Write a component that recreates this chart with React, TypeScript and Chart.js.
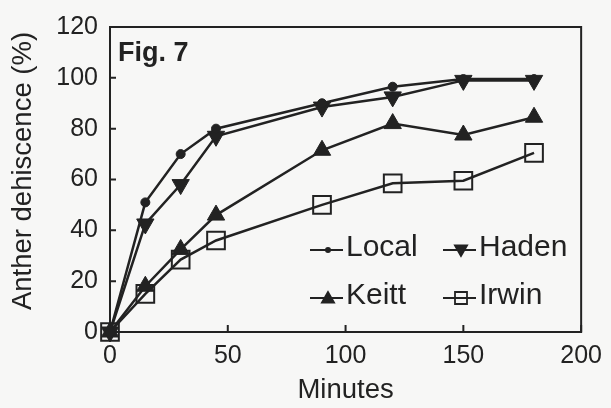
import React, { useEffect, useRef } from "react";
import { Chart, registerables } from "chart.js";

Chart.register(...registerables);

const minutes = [0, 15, 30, 45, 90, 120, 150, 180];
const localValues = [0, 51, 70, 80, 90, 96.5, 99.5, 99.5];
const hadenValues = [0, 42.5, 58, 77, 88.5, 92.5, 99, 99];
const keittValues = [0, 18, 32.5, 46, 71.5, 82, 77.5, 84.5];
const irwinValues = [0, 15, 28.5, 36, 50, 58.5, 59.5, 70.5];
const seriesNames = ["Local", "Haden", "Keitt", "Irwin"];
const xTicks = [0, 50, 100, 150, 200];
const yTicks = [0, 20, 40, 60, 80, 100, 120];
const xTitle = "Minutes";
const yTitle = "Anther dehiscence (%)";
const figLabel = "Fig. 7";

const INK = "#222222";
const BG = "#f7f7f6";
const FONT = "'Liberation Sans', Arial, Helvetica, sans-serif";

type Style = { pointStyle: string; radius: number; rotation: number; fill: string };
const styles: Style[] = [
  { pointStyle: "circle", radius: 4.5, rotation: 0, fill: INK },
  { pointStyle: "triangle", radius: 10, rotation: 180, fill: INK },
  { pointStyle: "triangle", radius: 10, rotation: 0, fill: INK },
  { pointStyle: "rect", radius: 12.5, rotation: 0, fill: "rgba(0,0,0,0)" },
];

function drawMarker(ctx: CanvasRenderingContext2D, kind: number, x: number, y: number, r: number) {
  ctx.save();
  ctx.strokeStyle = INK;
  ctx.fillStyle = INK;
  ctx.lineWidth = 1.8;
  ctx.beginPath();
  if (kind === 0) {
    ctx.arc(x, y, r, 0, Math.PI * 2);
    ctx.fill();
  } else if (kind === 1 || kind === 2) {
    const dir = kind === 1 ? 1 : -1;
    const h = r * 1.5;
    const w = r * Math.sqrt(3) / 2;
    ctx.moveTo(x, y + dir * r);
    ctx.lineTo(x - w, y - dir * (h - r));
    ctx.lineTo(x + w, y - dir * (h - r));
    ctx.closePath();
    ctx.fill();
    ctx.stroke();
  } else {
    ctx.rect(x - r, y - r, 2 * r, 2 * r);
    ctx.stroke();
  }
  ctx.restore();
}

const framePlugin = {
  id: "frame",
  beforeDraw(chart: any) {
    const { ctx, width, height } = chart;
    ctx.save();
    ctx.fillStyle = BG;
    ctx.fillRect(0, 0, width, height);
    ctx.restore();
  },
  beforeDatasetsDraw(chart: any) {
    const { ctx, chartArea: a, scales } = chart;
    ctx.save();
    ctx.strokeStyle = INK;
    ctx.lineWidth = 2;
    ctx.strokeRect(a.left, a.top, a.right - a.left, a.bottom - a.top);
    ctx.beginPath();
    for (const v of yTicks) {
      const y = scales.y.getPixelForValue(v);
      ctx.moveTo(a.left, y);
      ctx.lineTo(a.left + 6, y);
    }
    for (const v of xTicks) {
      const x = scales.x.getPixelForValue(v);
      ctx.moveTo(x, a.bottom);
      ctx.lineTo(x, a.bottom - 7);
    }
    ctx.stroke();
    ctx.fillStyle = INK;
    ctx.font = `bold 27px ${FONT}`;
    ctx.textBaseline = "alphabetic";
    ctx.textAlign = "left";
    ctx.fillText(figLabel, a.left + 8, a.top + 34);
    // y axis title
    ctx.font = `27.5px ${FONT}`;
    ctx.textBaseline = "middle";
    ctx.textAlign = "center";
    ctx.translate(23, 171);
    ctx.rotate(-Math.PI / 2);
    ctx.fillText(yTitle, 0, 0);
    ctx.restore();
  },
  afterDraw(chart: any) {
    const { ctx, chartArea: a } = chart;
    const rows = [a.bottom - 82, a.bottom - 34];
    const cols = [a.left + 200, a.left + 333];
    const legendR = [3, 7, 7, 6];
    ctx.save();
    ctx.font = `30px ${FONT}`;
    ctx.textBaseline = "middle";
    ctx.textAlign = "left";
    seriesNames.forEach((name, i) => {
      const x = cols[i % 2];
      const y = rows[Math.floor(i / 2)];
      ctx.strokeStyle = INK;
      ctx.lineWidth = 2.2;
      ctx.beginPath();
      ctx.moveTo(x, y);
      ctx.lineTo(x + 33, y);
      ctx.stroke();
      drawMarker(ctx, i, x + 18, y + (i === 1 ? -1 : i === 2 ? 1 : 0), legendR[i]);
      ctx.fillStyle = INK;
      ctx.fillText(name, x + 36, y - 2);
    });
    ctx.restore();
  },
};

export default function App() {
  const ref = useRef<HTMLCanvasElement | null>(null);
  useEffect(() => {
    document.body.style.margin = "0";
    const canvas = ref.current;
    if (!canvas) return;
    const values = [localValues, hadenValues, keittValues, irwinValues];
    const chart = new Chart(canvas, {
      type: "line",
      data: {
        datasets: seriesNames.map((name, i) => ({
          label: name,
          data: minutes.map((m, j) => ({ x: m, y: values[i][j] })),
          borderColor: INK,
          borderWidth: 2.5,
          backgroundColor: styles[i].fill,
          pointBackgroundColor: styles[i].fill,
          pointBorderColor: INK,
          pointBorderWidth: i === 3 ? 2 : 1,
          pointStyle: styles[i].pointStyle as any,
          pointRadius: styles[i].radius,
          pointRotation: styles[i].rotation,
          tension: 0,
          fill: false,
          clip: false as any,
        })),
      },
      options: {
        animation: false,
        responsive: false,
        events: [],
        layout: { padding: { left: 0, right: 25, top: 23, bottom: 0 } },
        plugins: { legend: { display: false }, tooltip: { enabled: false } },
        scales: {
          x: {
            type: "linear",
            min: 0,
            max: 200,
            afterFit: (s: any) => { s.height = 76; },
            afterBuildTicks: (s: any) => { s.ticks = xTicks.map((v) => ({ value: v })); },
            grid: { display: false, drawTicks: false },
            border: { display: false },
            ticks: { color: INK, font: { family: FONT, size: 25 }, padding: 9, maxRotation: 0 },
            title: {
              display: true,
              text: xTitle,
              color: INK,
              font: { family: FONT, size: 27.5 },
              padding: { top: 0, bottom: 1 },
            },
          },
          y: {
            type: "linear",
            min: 0,
            max: 120,
            afterFit: (s: any) => { s.width = 110; },
            afterBuildTicks: (s: any) => { s.ticks = yTicks.map((v) => ({ value: v })); },
            grid: { display: false, drawTicks: false },
            border: { display: false },
            ticks: { color: INK, font: { family: FONT, size: 25 }, padding: 12 },
            title: { display: false },
          },
        },
      },
      plugins: [framePlugin],
    });
    return () => chart.destroy();
  }, []);
  return (
    <div style={{ width: 611, height: 408 }}>
      <canvas ref={ref} width={611} height={408} style={{ display: "block" }} />
    </div>
  );
}
